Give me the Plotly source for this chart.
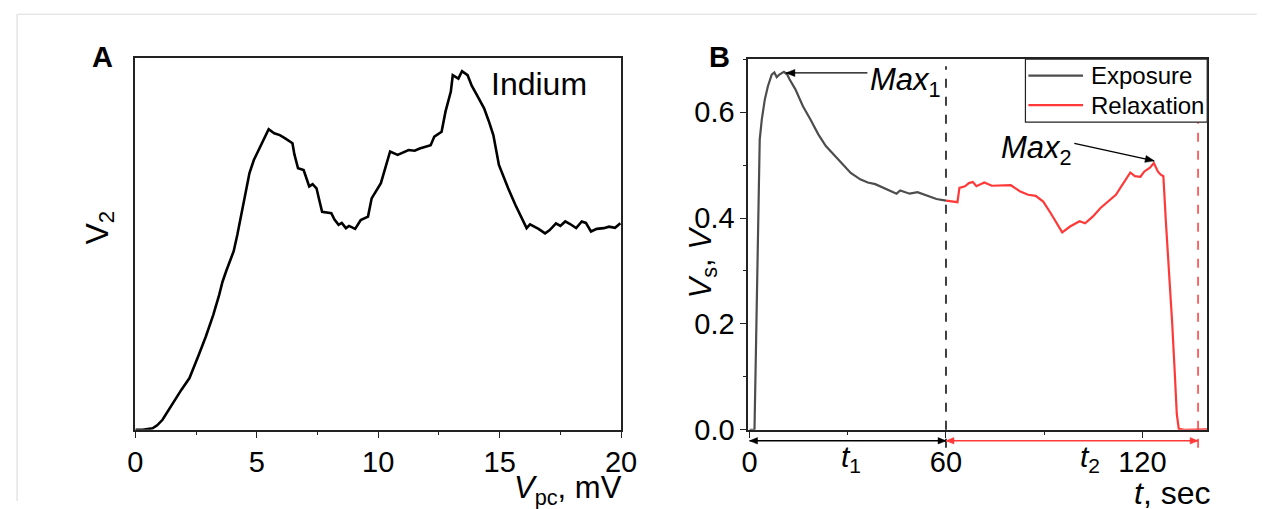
import plotly.graph_objects as go

W, H = 1265, 509          # size of the picture / figure
OFF = 8                   # default page body margin
DOC_W, DOC_H = 1281, 525  # page size that gets scaled into the picture
FONT = "Liberation Sans, Arial, sans-serif"

# ---------------- Panel A data (normalised V2 vs Vpc, mV) ----------------
a_vpc = [0.0, 0.3, 0.71, 0.9, 1.12, 1.35, 1.62, 1.9, 2.23, 2.45, 2.61, 2.9, 3.21, 3.45, 3.59,
         3.75, 3.90, 4.05, 4.20, 4.35, 4.50, 4.70, 4.88, 5.05, 5.19, 5.35, 5.49, 5.72, 5.95,
         6.17, 6.47, 6.55, 6.70, 6.93, 7.05, 7.16, 7.30, 7.46, 7.60, 7.69, 8.07, 8.20, 8.37,
         8.50, 8.67, 8.80, 9.05, 9.15, 9.28, 9.58, 9.73, 10.11, 10.30, 10.49, 10.80, 11.00,
         11.25, 11.50, 11.71, 12.16, 12.31, 12.61, 12.77, 12.99, 13.07, 13.30, 13.45, 13.68,
         13.85, 14.06, 14.36, 14.55, 14.74, 14.97, 15.20, 15.35, 15.65, 15.88, 16.11, 16.25,
         16.42, 16.60, 16.87, 17.05, 17.32, 17.50, 17.70, 17.90, 18.15, 18.38, 18.55, 18.76,
         19.00, 19.29, 19.50, 19.75, 19.97]
a_v2 = [0.0, 0.0, 0.004, 0.012, 0.027, 0.052, 0.081, 0.108, 0.139, 0.172, 0.201, 0.250, 0.309,
        0.362, 0.398, 0.428, 0.452, 0.480, 0.524, 0.575, 0.627, 0.690, 0.725, 0.748, 0.765,
        0.785, 0.808, 0.797, 0.792, 0.783, 0.770, 0.740, 0.703, 0.698, 0.672, 0.654, 0.660,
        0.649, 0.610, 0.586, 0.582, 0.565, 0.551, 0.556, 0.542, 0.548, 0.540, 0.552, 0.564,
        0.573, 0.622, 0.663, 0.705, 0.748, 0.739, 0.744, 0.752, 0.750, 0.756, 0.765, 0.788,
        0.801, 0.855, 0.909, 0.953, 0.944, 0.964, 0.953, 0.925, 0.900, 0.864, 0.830, 0.792,
        0.712, 0.672, 0.649, 0.604, 0.573, 0.542, 0.552, 0.546, 0.540, 0.528, 0.536, 0.555,
        0.548, 0.560, 0.553, 0.542, 0.560, 0.556, 0.533, 0.540, 0.542, 0.546, 0.543, 0.555]

# ---------------- Panel B data (Vs, V vs t, sec) ----------------
b_t_exp = [0.0, 1.5, 2.0, 2.56, 3.1, 3.73, 4.66, 5.6, 6.76, 7.57, 8.3, 9.1, 10.5, 11.5, 12.2,
           14.0, 16.3, 18.6, 21.0, 23.3, 25.6, 27.96, 30.9, 33.8, 36.1, 38.4, 41.9, 44.9,
           46.0, 47.2, 48.9, 51.3, 54.2, 57.1, 60.0]
b_vs_exp = [0.0, 0.0, 0.169, 0.359, 0.548, 0.586, 0.624, 0.649, 0.671, 0.675, 0.666, 0.671,
            0.676, 0.671, 0.662, 0.643, 0.611, 0.586, 0.558, 0.536, 0.520, 0.504, 0.485,
            0.473, 0.467, 0.464, 0.454, 0.446, 0.452, 0.450, 0.446, 0.449, 0.442, 0.436, 0.433]
b_t_rel = [60.0, 61.7, 63.5, 64.1, 65.8, 67.0, 68.2, 69.3, 71.7, 74.0, 76.9, 79.8, 82.7, 85.1,
           87.4, 89.7, 92.0, 93.8, 95.5, 97.9, 100.8, 102.5, 104.9, 107.2, 109.5, 111.9,
           114.2, 116.3, 117.7, 119.4, 120.6, 122.3, 123.5, 124.7, 125.6, 126.4, 127.2,
           128.2, 129.1, 129.9, 130.5, 131.1, 132.8, 139.8]
b_vs_rel = [0.433, 0.431, 0.430, 0.457, 0.460, 0.466, 0.468, 0.460, 0.467, 0.461, 0.461, 0.462,
            0.450, 0.444, 0.442, 0.431, 0.409, 0.390, 0.373, 0.384, 0.394, 0.390, 0.403, 0.419,
            0.431, 0.444, 0.466, 0.486, 0.479, 0.478, 0.488, 0.495, 0.504, 0.488, 0.482, 0.479,
            0.390, 0.296, 0.201, 0.106, 0.030, 0.002, 0.0, 0.001]

b_xticks = [0, 60, 120]
b_yticks = [0.0, 0.2, 0.4, 0.6]
b_ytick_text = ["0.0", "0.2", "0.4", "0.6"]
a_xticks = [0, 5, 10, 15, 20]
t_exposure_end = 60
t_relax_end = 137
# annotation arrow anchors (data coords of panel B)
max1_tip, max1_tail = (11.1, 0.674), (36.0, 0.674)
max2_tip, max2_tail = (123.6, 0.508), (99.2, 0.541)

GRAY = "#4d4d4d"
RED = "#ff3838"

B_XR = [-0.4, 139.8]
B_YR = [0.0, 0.70]
B_LEFT, B_RIGHT, B_TOP, B_BOT = 745, 1207, 59, 430

SX = DOC_W / W            # picture px -> page px
SY = DOC_H / H


def px(s):
    """picture x pixel -> paper fraction"""
    return (s * SX - OFF) / W


def py(s):
    """picture y pixel (from top) -> paper fraction"""
    return 1 - (s * SY - OFF) / H


# one picture pixel expressed in panel-B data units / paper units
UX = (B_XR[1] - B_XR[0]) / (B_RIGHT - B_LEFT)
UY = (B_YR[1] - B_YR[0]) / (B_BOT - B_TOP)
UP = SY / H


fig = go.Figure()
fig.add_trace(go.Scatter(x=a_vpc, y=a_v2, mode="lines", line=dict(color="black", width=2.6),
                         xaxis="x", yaxis="y", showlegend=False, hoverinfo="skip"))
fig.add_trace(go.Scatter(x=b_t_exp, y=b_vs_exp, mode="lines", line=dict(color=GRAY, width=2.2),
                         xaxis="x2", yaxis="y2", name="Exposure", showlegend=False,
                         hoverinfo="skip"))
fig.add_trace(go.Scatter(x=b_t_rel, y=b_vs_rel, mode="lines", line=dict(color=RED, width=2.2),
                         xaxis="x2", yaxis="y2", name="Relaxation", showlegend=False,
                         hoverinfo="skip"))

tickfont = dict(family=FONT, size=29, color="black")
axline = dict(showline=True, linecolor="#222", linewidth=1.6, mirror=True, showgrid=False,
              zeroline=False, fixedrange=True)

fig.update_layout(
    width=W, height=H, margin=dict(l=0, r=0, t=0, b=0),
    paper_bgcolor="white", plot_bgcolor="white", dragmode=False, hovermode=False,
    font=dict(family=FONT, color="black"),
    xaxis=dict(domain=[px(128), px(617)], range=[0, 20], tickvals=a_xticks, ticks="outside",
               ticklen=6, tickwidth=1.4, tickcolor="#222", tickfont=tickfont, anchor="y",
               minor=dict(dtick=2.5, tick0=0, ticks="outside", ticklen=3, tickwidth=1.2,
                          tickcolor="#222"), **axline),
    yaxis=dict(domain=[py(430), py(57.5)], range=[0, 1.0], showticklabels=False, ticks="",
               anchor="x", **axline),
    xaxis2=dict(domain=[px(B_LEFT), px(B_RIGHT)], range=B_XR, tickvals=b_xticks,
                ticks="outside", ticklen=6, tickwidth=1.4, tickcolor="#222", tickfont=tickfont,
                anchor="y2",
                minor=dict(dtick=30, tick0=0, ticks="outside", ticklen=3, tickwidth=1.2,
                           tickcolor="#222"), **axline),
    yaxis2=dict(domain=[py(B_BOT), py(B_TOP)], range=B_YR, tickvals=b_yticks,
                ticktext=b_ytick_text, ticks="outside", ticklen=6, tickwidth=1.4,
                tickcolor="#222", tickfont=tickfont, anchor="x2",
                minor=dict(dtick=0.1, tick0=0, ticks="outside", ticklen=3, tickwidth=1.2,
                           tickcolor="#222"), **axline),
)

shapes = []
# outer light frame
shapes.append(dict(type="line", xref="paper", yref="paper", x0=px(9), x1=1.0, y0=py(14), y1=py(14),
                   line=dict(color="#dcdcdc", width=1.2)))
shapes.append(dict(type="line", xref="paper", yref="paper", x0=px(9), x1=px(9), y0=0, y1=py(14),
                   line=dict(color="#dcdcdc", width=1.2)))
# dashed markers in panel B
shapes.append(dict(type="line", xref="x2", yref="paper", x0=t_exposure_end, x1=t_exposure_end,
                   y0=py(448), y1=py(66), line=dict(color="black", width=1.5, dash="dash")))
shapes.append(dict(type="line", xref="x2", yref="paper", x0=t_relax_end, x1=t_relax_end,
                   y0=py(448), y1=py(59), line=dict(color=RED, width=1.5, dash="dash")))


def arrow_data(tip, tail, color):
    """arrow drawn as a line plus filled head, in panel-B data coordinates"""
    shapes.append(dict(type="line", xref="x2", yref="y2", x0=tail[0], y0=tail[1], x1=tip[0],
                       y1=tip[1], line=dict(color=color, width=1.3)))
    dxp = (tip[0] - tail[0]) / UX
    dyp = (tip[1] - tail[1]) / UY
    n = (dxp ** 2 + dyp ** 2) ** 0.5
    ux, uy = dxp / n, dyp / n
    L, Wd = 9.0, 3.5
    bx, by = -ux * L, -uy * L
    p1 = (tip[0] + (bx - uy * Wd) * UX, tip[1] + (by + ux * Wd) * UY)
    p2 = (tip[0] + (bx + uy * Wd) * UX, tip[1] + (by - ux * Wd) * UY)
    shapes.append(dict(type="path", xref="x2", yref="y2",
                       path=f"M{tip[0]},{tip[1]} L{p1[0]},{p1[1]} L{p2[0]},{p2[1]} Z",
                       fillcolor=color, line=dict(color=color, width=0.5)))


def interval_arrow(x0, x1, yscreen, color):
    """double-headed horizontal arrow under the axis (x in data, y in paper)"""
    yp = py(yscreen)
    shapes.append(dict(type="line", xref="x2", yref="paper", x0=x0, x1=x1, y0=yp, y1=yp,
                       line=dict(color=color, width=1.4)))
    L, Wd = 8.0, 3.2
    for tip, sgn in ((x0, 1), (x1, -1)):
        bx = tip + sgn * L * UX
        shapes.append(dict(type="path", xref="x2", yref="paper",
                           path=f"M{tip},{yp} L{bx},{yp + Wd * UP} L{bx},{yp - Wd * UP} Z",
                           fillcolor=color, line=dict(color=color, width=0.5)))


arrow_data(max1_tip, max1_tail, "black")
arrow_data(max2_tip, max2_tail, "black")
interval_arrow(0, t_exposure_end, 441, "black")
interval_arrow(t_exposure_end, t_relax_end, 441, RED)

# manual legend
shapes.append(dict(type="rect", xref="paper", yref="paper", x0=px(1024), x1=px(1207),
                   y0=py(122), y1=py(59), line=dict(color="#222", width=1.2), fillcolor="white",
                   layer="above"))
shapes.append(dict(type="line", xref="paper", yref="paper", x0=px(1027), x1=px(1082),
                   y0=py(75.5), y1=py(75.5), line=dict(color=GRAY, width=2.2), layer="above"))
shapes.append(dict(type="line", xref="paper", yref="paper", x0=px(1027), x1=px(1082),
                   y0=py(105), y1=py(105), line=dict(color=RED, width=2.2), layer="above"))
fig.update_layout(shapes=shapes)

ann = []


def text(x, y, s, size=26, xanchor="center", yanchor="middle", angle=0):
    ann.append(dict(x=x, y=y, xref="paper", yref="paper", text=s, showarrow=False,
                    xanchor=xanchor, yanchor=yanchor, borderpad=0, textangle=angle,
                    font=dict(family=FONT, size=size, color="black")))


# panel labels
text(px(95), py(57), "<b>A</b>", size=29)
text(px(716), py(57), "<b>B</b>", size=29)
# panel A texts
text(px(534), py(84), "Indium", size=32)
text(px(91), py(228), "V<sub>2</sub>", size=32, angle=-90)
text(px(619), py(490), "<i>V</i><sub>pc</sub>, mV", size=31, xanchor="right")
# panel B texts
text(px(699), py(262), "<i>V</i><sub>s</sub>, <i>V</i>", size=31, angle=-90)
text(px(1211), py(493), "<i>t</i>, sec", size=32, xanchor="right")
text(px(848), py(459), "<i>t</i><sub>1</sub>", size=30)
text(px(1089), py(459), "<i>t</i><sub>2</sub>", size=30)
text(px(903), py(82), "<i>Max</i><sub>1</sub>", size=31)
text(px(1035), py(150), "<i>Max</i><sub>2</sub>", size=31)
# legend texts
text(px(1089), py(75.5), "Exposure", size=24, xanchor="left")
text(px(1089), py(105), "Relaxation", size=24, xanchor="left")
fig.update_layout(annotations=ann)

fig.write_html("out.html")
